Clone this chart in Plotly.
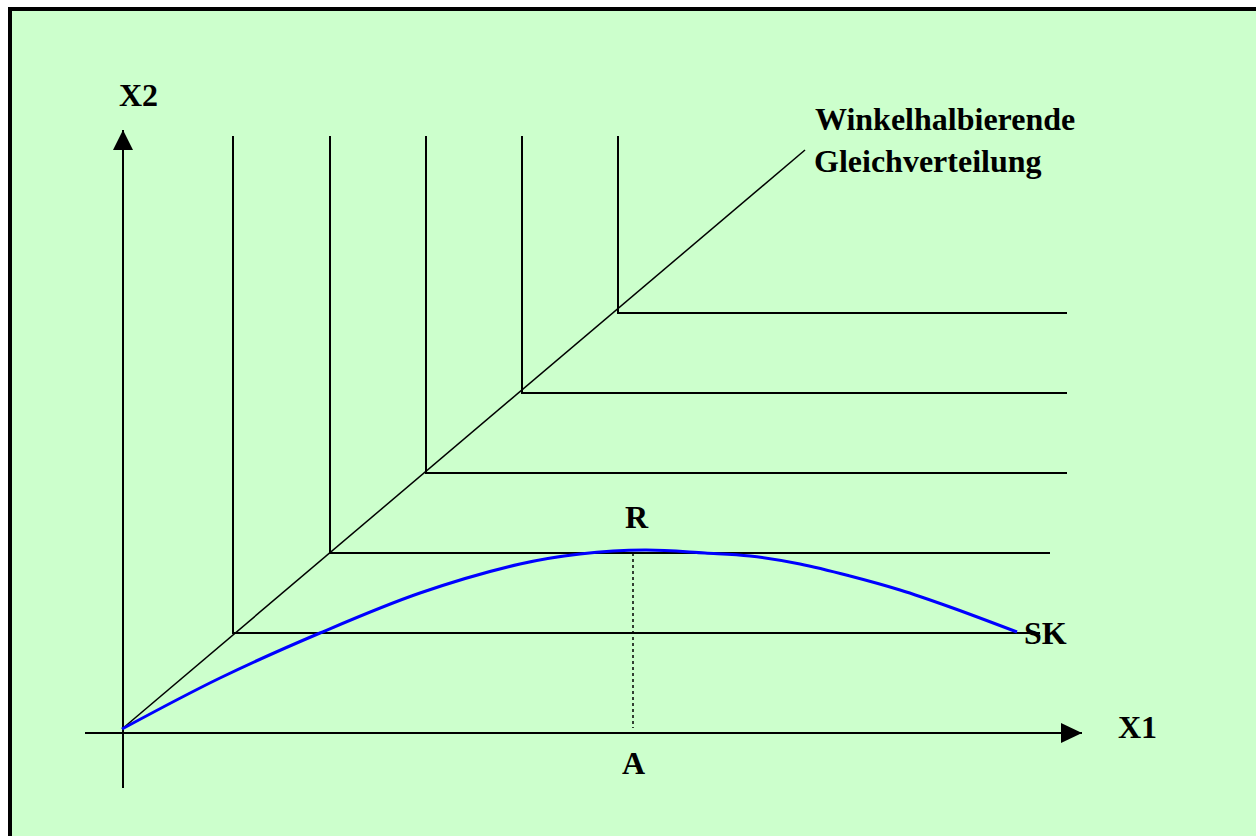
import plotly.graph_objects as go

# ---- data (units: origin at the axes' intersection) ----
iso_corner_x1 = [110, 207, 303, 399, 495]
iso_corner_x2 = [100, 180, 260, 340, 420]
iso_top_x2 = 597
iso_right_x1 = [917, 927, 944, 944, 944]

diag_x1 = [-1, 682]
diag_x2 = [4, 583]

curve_x1 = [-1, 97, 197, 297, 397, 457, 522, 582, 627, 677, 727, 777, 827, 894]
curve_x2 = [4, 55, 100, 140, 169, 179, 183, 180, 177, 169, 157, 143, 126, 101]

point_a_x1 = 510
point_r_x2 = 180

x1_axis = [-38, 959]
x2_axis = [-55, 603]

BG = "#CCFFCC"
FONT = "Liberation Serif, Times New Roman, serif"
W, H = 1256, 836

fig = go.Figure()

# isoquants
for cx, cy, rx in zip(iso_corner_x1, iso_corner_x2, iso_right_x1):
    fig.add_trace(go.Scatter(x=[cx, cx, rx], y=[iso_top_x2, cy, cy], mode="lines",
                             line=dict(color="black", width=2), hoverinfo="skip"))

# diagonal
fig.add_trace(go.Scatter(x=diag_x1, y=diag_x2, mode="lines",
                         line=dict(color="black", width=1.5), hoverinfo="skip"))

# dotted line R -> A
fig.add_trace(go.Scatter(x=[point_a_x1, point_a_x1], y=[point_r_x2, 5], mode="lines",
                         line=dict(color="black", width=1.5, dash="dot"), hoverinfo="skip"))

# axes
fig.add_trace(go.Scatter(x=x1_axis, y=[0, 0], mode="lines",
                         line=dict(color="black", width=2), hoverinfo="skip"))
fig.add_trace(go.Scatter(x=[0, 0], y=x2_axis, mode="lines",
                         line=dict(color="black", width=2), hoverinfo="skip"))

# blue curve
fig.add_trace(go.Scatter(x=curve_x1, y=curve_x2, mode="lines",
                         line=dict(color="#0000FF", width=3, shape="spline"), hoverinfo="skip"))

# arrow heads
tx = x1_axis[1]
ty = x2_axis[1]
fig.add_shape(type="path", path=f"M {tx},0 L {tx-21},10 L {tx-21},-10 Z",
              fillcolor="black", line=dict(color="black", width=0))
fig.add_shape(type="path", path=f"M 0,{ty} L -10,{ty-20} L 10,{ty-20} Z",
              fillcolor="black", line=dict(color="black", width=0))

# white page margin at left/top, then the black frame edges
fig.add_shape(type="rect", xref="paper", yref="paper", x0=0, x1=8/W, y0=0, y1=1,
              fillcolor="white", line=dict(width=0))
fig.add_shape(type="rect", xref="paper", yref="paper", x0=0, x1=1, y0=1 - 7/H, y1=1,
              fillcolor="white", line=dict(width=0))
fig.add_shape(type="line", xref="paper", yref="paper",
              x0=10/W, x1=10/W, y0=0, y1=1 - 7/H, line=dict(color="black", width=4))
fig.add_shape(type="line", xref="paper", yref="paper",
              x0=8/W, x1=1, y0=1 - 9/H, y1=1 - 9/H, line=dict(color="black", width=4))

fs = 32
def label(text, x, y, xanchor="left"):
    fig.add_annotation(x=x, y=y, text=f"<b>{text}</b>", showarrow=False,
                       xanchor=xanchor, yanchor="middle",
                       font=dict(family=FONT, size=fs, color="black"))

label("X2", -6, 638)
label("Winkelhalbierende", 690, 614)
label("Gleichverteilung", 689, 572)
label("R", 500, 216)
label("SK", 899, 100)
label("X1", 993, 6)
label("A", 497, -30)

fig.update_layout(
    width=W, height=H,
    margin=dict(l=0, r=0, t=0, b=0),
    paper_bgcolor=BG, plot_bgcolor=BG,
    showlegend=False,
    xaxis=dict(range=[-123, 1133], visible=False, fixedrange=True),
    yaxis=dict(range=[-103, 733], visible=False, fixedrange=True),
)

fig.write_html(
    "out.html",
    config={"displayModeBar": False},
    post_script=("document.body.style.margin='0';"
                 "document.documentElement.style.overflow='hidden';"
                 "document.body.style.overflow='hidden';"),
)
